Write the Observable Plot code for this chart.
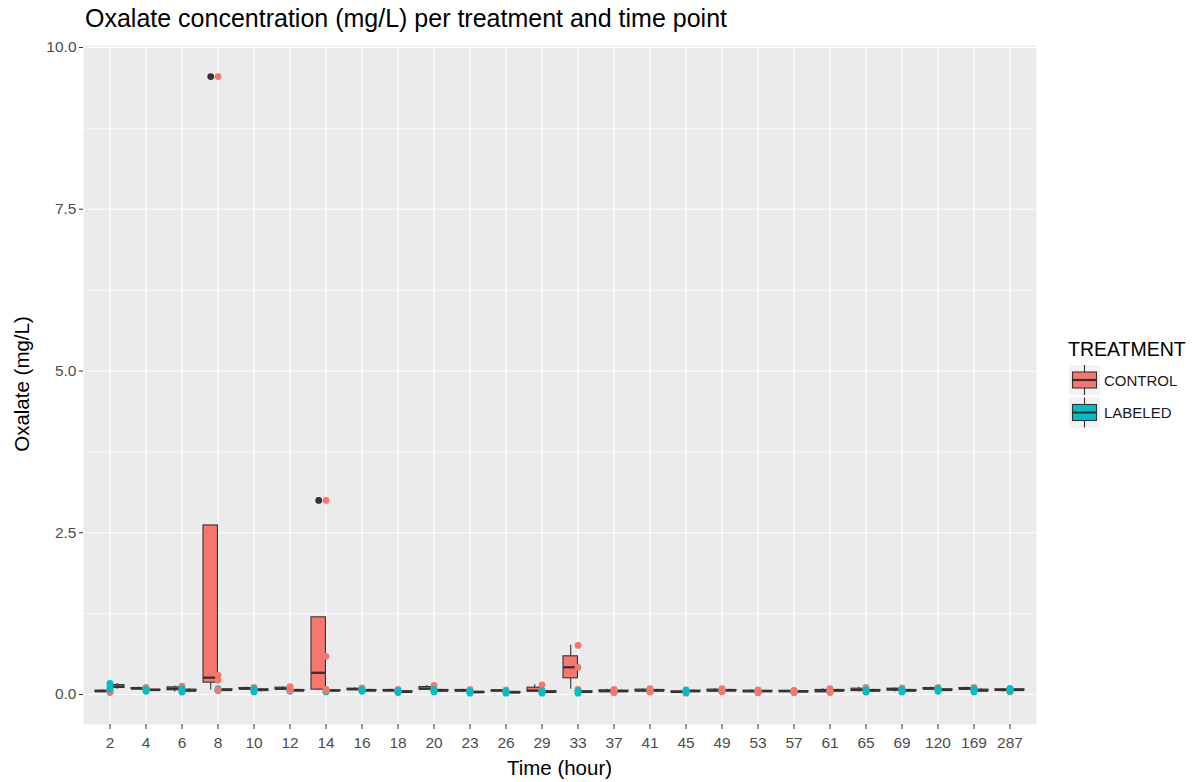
<!DOCTYPE html>
<html>
<head>
<meta charset="utf-8">
<script src="https://cdn.jsdelivr.net/npm/d3@7"></script>
<script src="https://cdn.jsdelivr.net/npm/@observablehq/plot@0.6"></script>
<style>
  body { margin: 0; background: #fff; font-family: "Liberation Sans", Arial, sans-serif; }
  #wrap { position: relative; width: 1201px; height: 782px; overflow: hidden; }
  #chart { position: absolute; left: 0; top: 0; }
  #title { position: absolute; left: 85px; top: 4px; font-size: 25px; color: #000; white-space: nowrap; }
  #xtitle { position: absolute; left: 83px; width: 953px; top: 756px; text-align: center; font-size: 20.5px; color: #000; }
  #ytitle { position: absolute; left: 22px; top: 384px; font-size: 20.5px; color: #000; white-space: nowrap;
            transform: translate(-50%, -50%) rotate(-90deg); }
  #legend { position: absolute; left: 1060px; top: 330px; }
</style>
</head>
<body>
<div id="wrap">
  <div id="chart"></div>
  <div id="title">Oxalate concentration (mg/L) per treatment and time point</div>
  <div id="ytitle">Oxalate (mg/L)</div>
  <div id="xtitle">Time (hour)</div>
  <svg id="legend" width="140" height="110"></svg>
</div>
<script>
// ---- data ----
const times = ["2","4","6","8","10","12","14","16","18","20","23","26","29","33","37","41","45","49","53","57","61","65","69","120","169","287"];
const treatments = ["CONTROL", "LABELED"];
const treatmentColors = ["#F8766D", "#00BFC4"];
const yTicks = [0, 2.5, 5, 7.5, 10];
const yMinor = [1.25, 3.75, 6.25, 8.75];
// time points whose CONTROL samples come last in the data (drawn on top)
const controlLastTimes = ["8","12","14","37","41","49","53","57","61"];
const controlValues = [
  [0.03, 0.05, 0.07],
  [0.08, 0.09, 0.11],
  [0.04, 0.09, 0.13],
  [0.07, 0.22, 0.30, 9.55],
  [0.07, 0.09, 0.11],
  [0.06, 0.09, 0.12],
  [0.06, 0.08, 0.59, 3.00],
  [0.06, 0.08, 0.10],
  [0.05, 0.06, 0.08],
  [0.06, 0.09, 0.14],
  [0.04, 0.06, 0.08],
  [0.04, 0.06, 0.07],
  [0.03, 0.06, 0.15],
  [0.08, 0.42, 0.76],
  [0.03, 0.05, 0.08],
  [0.04, 0.06, 0.09],
  [0.02, 0.04, 0.055],
  [0.04, 0.06, 0.09],
  [0.025, 0.05, 0.07],
  [0.03, 0.05, 0.065],
  [0.03, 0.05, 0.09],
  [0.04, 0.07, 0.11],
  [0.04, 0.08, 0.10],
  [0.07, 0.09, 0.11],
  [0.06, 0.09, 0.11],
  [0.04, 0.07, 0.09]
];
const labeledValues = [
  [0.08, 0.12, 0.17],
  [0.05, 0.07, 0.08],
  [0.04, 0.06, 0.09],
  [0.06, 0.07, 0.09],
  [0.04, 0.07, 0.09],
  [0.05, 0.06, 0.08],
  [0.04, 0.06, 0.07],
  [0.05, 0.06, 0.08],
  [0.03, 0.04, 0.06],
  [0.04, 0.06, 0.08],
  [0.02, 0.035, 0.05],
  [0.02, 0.03, 0.05],
  [0.02, 0.04, 0.06],
  [0.02, 0.04, 0.06],
  [0.03, 0.05, 0.07],
  [0.04, 0.06, 0.08],
  [0.03, 0.05, 0.07],
  [0.05, 0.06, 0.08],
  [0.03, 0.05, 0.065],
  [0.03, 0.045, 0.06],
  [0.04, 0.06, 0.08],
  [0.04, 0.06, 0.08],
  [0.04, 0.06, 0.08],
  [0.05, 0.07, 0.09],
  [0.04, 0.06, 0.09],
  [0.05, 0.07, 0.09]
];

// ---- derived tables ----
const rows = [];
const boxes = [];
const outliers = [];
function boxGroup(time, treatment, vals) {
  const v = vals.slice().sort(d3.ascending);
  const q1 = d3.quantileSorted(v, 0.25), med = d3.quantileSorted(v, 0.5), q3 = d3.quantileSorted(v, 0.75);
  const iqr = q3 - q1, lf = q1 - 1.5 * iqr, uf = q3 + 1.5 * iqr;
  const lo = d3.min(v.filter(d => d >= lf)), hi = d3.max(v.filter(d => d <= uf));
  boxes.push({time, treatment, q1, med, q3, lo, hi});
  v.filter(d => d < lf || d > uf).forEach(d => outliers.push({time, treatment, value: d}));
}
function addRows(time, treatment, vals) {
  vals.forEach(d => rows.push({time, treatment, value: d}));
}
times.forEach((t, i) => {
  boxGroup(t, "CONTROL", controlValues[i]);
  boxGroup(t, "LABELED", labeledValues[i]);
  if (controlLastTimes.includes(t)) {
    addRows(t, "LABELED", labeledValues[i]);
    addRows(t, "CONTROL", controlValues[i]);
  } else {
    addRows(t, "CONTROL", controlValues[i]);
    addRows(t, "LABELED", labeledValues[i]);
  }
});

// ---- layout ----
const W = 1050, H = 782;
const mL = 83, mR = 14, mT = 45, mB = 58;
const step = (W - mL - mR) / (times.length - 0.2 + 0.4);
const bw = step * 0.8, half = bw / 2, quarter = bw / 4;
const ink = "#333333";

function boxMarks(tr, side) {
  const data = boxes.filter(d => d.treatment === tr);
  const out = outliers.filter(d => d.treatment === tr);
  const inset = side < 0 ? {insetRight: half} : {insetLeft: half};
  const dx = side * quarter;
  return [
    Plot.ruleX(data, {x: "time", y1: "q3", y2: "hi", dx, stroke: ink, strokeWidth: 1.1}),
    Plot.ruleX(data, {x: "time", y1: "lo", y2: "q1", dx, stroke: ink, strokeWidth: 1.1}),
    Plot.barY(data, {x: "time", y1: "q1", y2: "q3", fill: "treatment", stroke: ink, strokeWidth: 1.1, ...inset}),
    Plot.tickY(data, {x: "time", y: "med", stroke: ink, strokeWidth: 2.3, ...inset}),
    Plot.dot(out, {x: "time", y: "value", dx, r: 3.4, fill: ink})
  ];
}

const chart = Plot.plot({
  width: W, height: H,
  marginLeft: mL, marginRight: mR, marginTop: mT, marginBottom: mB,
  style: {fontFamily: "Liberation Sans, Arial, sans-serif", fontSize: "15px", background: "transparent"},
  x: {type: "band", domain: times, paddingInner: 0.2, paddingOuter: 0.2, label: null},
  y: {domain: [-0.464, 10.031], label: null},
  color: {domain: treatments, range: treatmentColors},
  marks: [
    Plot.frame({fill: "#EBEBEB", stroke: null}),
    Plot.ruleY(yMinor, {stroke: "#fff", strokeWidth: 0.6}),
    Plot.ruleY(yTicks, {stroke: "#fff", strokeWidth: 1.2}),
    Plot.ruleX(times, {stroke: "#fff", strokeWidth: 1.2}),
    ...boxMarks("CONTROL", -1),
    ...boxMarks("LABELED", 1),
    Plot.dot(rows, {x: "time", y: "value", fill: "treatment", r: 3.4}),
    Plot.axisY({ticks: yTicks, tickFormat: d => d.toFixed(1), tickSize: 4, tickPadding: 3,
                stroke: ink, fill: "#4D4D4D", fontSize: 15.5, label: null}),
    Plot.axisX({tickSize: 5, tickPadding: 7, stroke: ink, fill: "#4D4D4D", fontSize: 15.5, label: null})
  ]
});
document.getElementById("chart").append(chart);

// ---- legend ----
const lg = d3.select("#legend");
lg.append("text").attr("x", 8).attr("y", 26).attr("font-size", 19.5)
  .attr("font-family", "Liberation Sans, Arial, sans-serif").attr("fill", "#000").text("TREATMENT");
treatments.forEach((t, i) => {
  const y0 = 35 + i * 32.5;
  const g = lg.append("g").attr("transform", `translate(9,${y0})`);
  g.append("rect").attr("width", 31).attr("height", 30).attr("fill", "#F2F2F2");
  g.append("line").attr("x1", 15.5).attr("x2", 15.5).attr("y1", 0).attr("y2", 30).attr("stroke", ink).attr("stroke-width", 1.1);
  g.append("rect").attr("x", 3.5).attr("y", 7).attr("width", 24).attr("height", 16)
    .attr("fill", treatmentColors[i]).attr("stroke", ink).attr("stroke-width", 1.1);
  g.append("line").attr("x1", 3.5).attr("x2", 27.5).attr("y1", 15).attr("y2", 15).attr("stroke", ink).attr("stroke-width", 2.2);
  lg.append("text").attr("x", 44).attr("y", y0 + 20.5).attr("font-size", 15)
    .attr("font-family", "Liberation Sans, Arial, sans-serif").attr("fill", "#1a1a1a").text(t);
});
</script>
</body>
</html>
